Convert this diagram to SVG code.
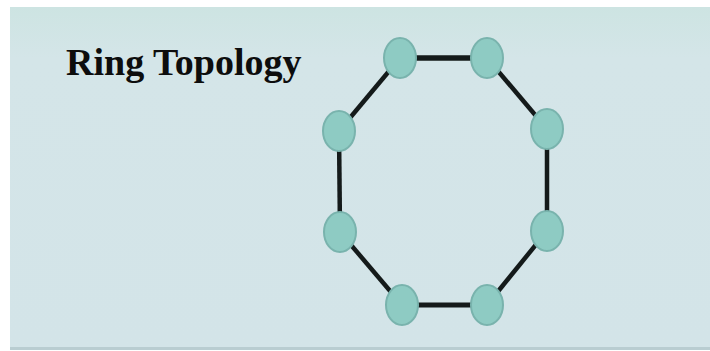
<svg xmlns="http://www.w3.org/2000/svg" width="710" height="351" viewBox="0 0 710 351">
  <defs>
    <linearGradient id="bg" x1="0" y1="0" x2="0" y2="1">
      <stop offset="0" stop-color="#cde4e2"/>
      <stop offset="0.15" stop-color="#d4e5e8"/>
      <stop offset="1" stop-color="#d3e4e8"/>
    </linearGradient>
  </defs>
  <style>
    .node { fill: #8ecbc3; stroke: #79b3ad; stroke-width: 2; }
    .link { stroke: #141a1a; stroke-width: 4.5; stroke-linecap: butt; fill: none; }
    .title { font-family: "Liberation Serif", "Times New Roman", serif; font-weight: bold; font-size: 38px; fill: #0d0d0d; }
  </style>
  <rect x="0" y="0" width="710" height="351" fill="#ffffff"/>
  <rect x="10" y="7" width="700" height="342" fill="url(#bg)"/>
  <rect x="10" y="347" width="700" height="3" fill="#b9cdd1"/>
  <text class="title" x="66" y="75">Ring Topology</text>
  <g id="connectors">
    <line class="link" x1="400" y1="58" x2="487" y2="58" style="stroke-width:5.5"/>
    <line class="link" x1="487" y1="58" x2="547" y2="129"/>
    <line class="link" x1="547" y1="129" x2="547" y2="231"/>
    <line class="link" x1="547" y1="231" x2="487" y2="305"/>
    <line class="link" x1="487" y1="305" x2="402" y2="305" style="stroke-width:5"/>
    <line class="link" x1="402" y1="305" x2="340" y2="232"/>
    <line class="link" x1="340" y1="232" x2="339" y2="131"/>
    <line class="link" x1="339" y1="131" x2="400" y2="58"/>
  </g>
  <g id="n1"><ellipse class="node" cx="400" cy="58" rx="16" ry="20"/></g>
  <g id="n2"><ellipse class="node" cx="487" cy="58" rx="16" ry="20"/></g>
  <g id="n3"><ellipse class="node" cx="547" cy="129" rx="16" ry="20"/></g>
  <g id="n4"><ellipse class="node" cx="547" cy="231" rx="16" ry="20"/></g>
  <g id="n5"><ellipse class="node" cx="487" cy="305" rx="16" ry="20"/></g>
  <g id="n6"><ellipse class="node" cx="402" cy="305" rx="16" ry="20"/></g>
  <g id="n7"><ellipse class="node" cx="340" cy="232" rx="16" ry="20"/></g>
  <g id="n8"><ellipse class="node" cx="339" cy="131" rx="16" ry="20"/></g>
</svg>
